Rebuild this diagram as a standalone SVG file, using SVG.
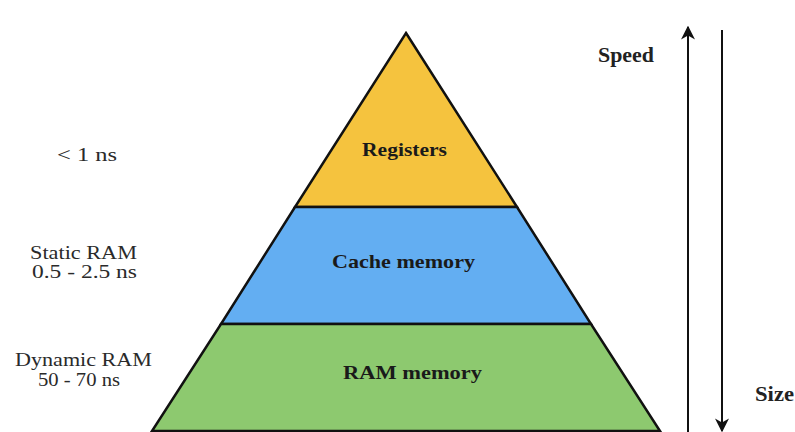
<svg xmlns="http://www.w3.org/2000/svg" width="795" height="432" viewBox="0 0 795 432">
  <style>
    .band { stroke: #111; stroke-width: 2.5; stroke-linejoin: miter; }
    .lbl { font-family: "Liberation Serif", "DejaVu Serif", "Times New Roman", serif; font-size: 19px; fill: #2a2a2a; text-anchor: middle; }
    .in { font-weight: bold; fill: #1a1a1a; }
    .axis { font-family: "Liberation Serif", "DejaVu Serif", serif; font-size: 20px; font-weight: bold; fill: #222; }
    .arr { stroke: #111; stroke-width: 2; fill: none; }
  </style>
  <defs>
    <marker id="head" viewBox="0 0 10 10" refX="9" refY="5" markerWidth="7" markerHeight="7" orient="auto">
      <path d="M0,0 L10,5 L0,10 L3,5 Z" fill="#111"/>
    </marker>
  </defs>
  <rect width="795" height="432" fill="#ffffff"/>

  <!-- pyramid levels -->
  <g id="registers">
    <polygon class="band" points="406,33 517,207 295,207" fill="#F5C33E"/>
    <text class="lbl in" x="404.5" y="156" textLength="85" lengthAdjust="spacingAndGlyphs">Registers</text>
  </g>
  <g id="cache">
    <polygon class="band" points="295,207 517,207 591,324 221,324" fill="#63AEF2"/>
    <text class="lbl in" x="403.5" y="268" textLength="143" lengthAdjust="spacingAndGlyphs">Cache memory</text>
  </g>
  <g id="ram">
    <polygon class="band" points="221,324 591,324 660,431 152,431" fill="#8DC96F"/>
    <text class="lbl in" x="412.5" y="379" textLength="139" lengthAdjust="spacingAndGlyphs">RAM memory</text>
  </g>

  <!-- access time labels -->
  <g id="t-registers">
    <text class="lbl" x="87" y="161" textLength="60" lengthAdjust="spacingAndGlyphs">&lt; 1 ns</text>
  </g>
  <g id="t-static">
    <text class="lbl" x="83.5" y="259" textLength="107" lengthAdjust="spacingAndGlyphs">Static RAM</text>
    <text class="lbl" x="84.5" y="278" textLength="105" lengthAdjust="spacingAndGlyphs">0.5 - 2.5 ns</text>
  </g>
  <g id="t-dynamic">
    <text class="lbl" x="83.5" y="366" textLength="137" lengthAdjust="spacingAndGlyphs">Dynamic RAM</text>
    <text class="lbl" x="79" y="386" textLength="82" lengthAdjust="spacingAndGlyphs">50 - 70 ns</text>
  </g>

  <!-- speed / size axes -->
  <g id="connectors">
    <line class="arr" x1="688" y1="432" x2="688" y2="27" marker-end="url(#head)"/>
    <line class="arr" x1="722" y1="30" x2="722" y2="431" marker-end="url(#head)"/>
  </g>
  <g id="speed">
    <text class="axis" x="598" y="62" textLength="56" lengthAdjust="spacingAndGlyphs">Speed</text>
  </g>
  <g id="size">
    <text class="axis" x="755" y="401" textLength="39" lengthAdjust="spacingAndGlyphs">Size</text>
  </g>
</svg>
